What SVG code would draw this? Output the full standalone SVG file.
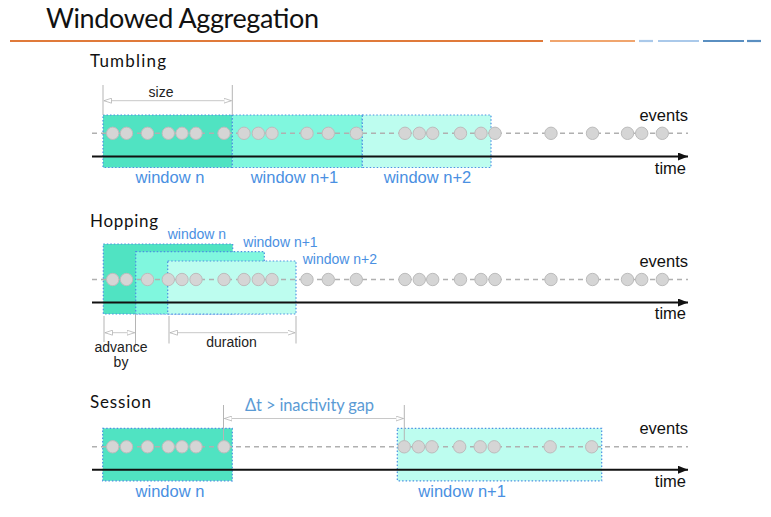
<svg xmlns="http://www.w3.org/2000/svg" width="771" height="517" viewBox="0 0 771 517">
<style>
.hdr{font-family:Lato,"Open Sans",sans-serif;fill:#111}
.lbl{font-family:"Liberation Sans",Arial,sans-serif;fill:#4a90e2}
.ax{font-family:"Liberation Sans",Arial,sans-serif;fill:#111;font-size:16.5px}
.dim{font-family:"Liberation Sans",Arial,sans-serif;fill:#222;font-size:14px}
.w0{fill:#50e3c2;stroke:#4a90e2;stroke-width:1.2;stroke-dasharray:1.5 2}
.w1{fill:#80f7de;stroke:#4a90e2;stroke-width:1.2;stroke-dasharray:1.5 2}
.w2{fill:#bdfdef;stroke:#4a90e2;stroke-width:1.2;stroke-dasharray:1.5 2}
.ev{stroke:#b0b0b0;stroke-width:1.5;stroke-dasharray:5 4;fill:none}
.axis{stroke:#111;stroke-width:2;fill:none}
.tick{stroke:#b5b5b5;stroke-width:1;fill:none}
.dl{stroke:#c8c8c8;stroke-width:1;fill:none}
.ah{fill:#fff;stroke:#b5b5b5;stroke-width:0.8}
circle{fill:#d5d5d5;stroke:#bcbcbc;stroke-width:1}
</style>
<defs>
<marker id="arr" viewBox="0 0 10 8" refX="10" refY="4" markerWidth="10" markerHeight="8" markerUnits="userSpaceOnUse" orient="auto">
<path d="M0,0 L10,4 L0,8 Z" fill="#111"/>
</marker>
<marker id="dimA" viewBox="0 0 8 6" refX="8" refY="3" markerWidth="8" markerHeight="6" markerUnits="userSpaceOnUse" orient="auto-start-reverse">
<path d="M0,0.5 L7.5,3 L0,5.5 Z" fill="#fff" stroke="#b5b5b5" stroke-width="0.8"/>
</marker>
<g id="evT">
<circle cx="112.7" cy="0" r="6.2"/><circle cx="126.5" cy="0" r="6.2"/><circle cx="147.5" cy="0" r="6.2"/><circle cx="168.3" cy="0" r="6.2"/><circle cx="182" cy="0" r="6.2"/><circle cx="196" cy="0" r="6.2"/><circle cx="224" cy="0" r="6.2"/>
</g>
<g id="evM">
<circle cx="244" cy="0" r="6.2"/><circle cx="258.3" cy="0" r="6.2"/><circle cx="272" cy="0" r="6.2"/><circle cx="307" cy="0" r="6.2"/><circle cx="328.3" cy="0" r="6.2"/><circle cx="356.3" cy="0" r="6.2"/>
</g>
<g id="evE">
<circle cx="405" cy="0" r="6.2"/><circle cx="419.3" cy="0" r="6.2"/><circle cx="432.7" cy="0" r="6.2"/><circle cx="460.5" cy="0" r="6.2"/><circle cx="481" cy="0" r="6.2"/><circle cx="495" cy="0" r="6.2"/><circle cx="551" cy="0" r="6.2"/><circle cx="592.5" cy="0" r="6.2"/>
</g>
<g id="evX">
<circle cx="627.5" cy="0" r="6.2"/><circle cx="641.7" cy="0" r="6.2"/><circle cx="662.3" cy="0" r="6.2"/>
</g>
</defs>
<rect width="771" height="517" fill="#fff"/>

<g id="title">
<text class="hdr" x="46" y="28" font-size="27" textLength="273">Windowed Aggregation</text>
<line x1="10" y1="41" x2="543" y2="41" stroke="#e07a3a" stroke-width="2.2"/>
<line x1="550" y1="41" x2="635" y2="41" stroke="#f0a56e" stroke-width="2.2"/>
<line x1="639" y1="41" x2="653" y2="41" stroke="#aac9ea" stroke-width="2.2"/>
<line x1="658" y1="41" x2="699" y2="41" stroke="#aac9ea" stroke-width="2.2"/>
<line x1="703" y1="41" x2="744" y2="41" stroke="#5a8fc1" stroke-width="2.2"/>
<line x1="747" y1="41" x2="761" y2="41" stroke="#5a8fc1" stroke-width="2.2"/>
</g>

<!-- Tumbling -->
<g id="tumbling-header"><text class="hdr" x="90" y="67.3" font-size="17" textLength="76">Tumbling</text></g>
<g id="tumbling-window-n"><rect class="w0" x="103" y="115" width="129.3" height="52.5"/><text class="lbl" x="170" y="183" font-size="16.5" text-anchor="middle">window n</text></g>
<g id="tumbling-window-n1"><rect class="w1" x="232.3" y="115" width="130" height="52.5"/><text class="lbl" x="294.5" y="183" font-size="16.5" text-anchor="middle">window n+1</text></g>
<g id="tumbling-window-n2"><rect class="w2" x="362.3" y="115" width="128.7" height="52.5"/><text class="lbl" x="427.5" y="183" font-size="16.5" text-anchor="middle">window n+2</text></g>

<!-- Hopping -->
<g id="hopping-header"><text class="hdr" x="90" y="227.3" font-size="17" textLength="68">Hopping</text></g>
<g id="hopping-window-n"><rect class="w0" x="103.3" y="244" width="129.4" height="70"/><text class="lbl" x="167.7" y="238.5" font-size="14">window n</text></g>
<g id="hopping-window-n1"><rect class="w1" x="135.7" y="251.7" width="128.6" height="62.3"/><text class="lbl" x="243.3" y="247" font-size="14">window n+1</text></g>
<g id="hopping-window-n2"><rect class="w2" x="167.7" y="261" width="128.3" height="53"/><text class="lbl" x="302.7" y="264" font-size="14">window n+2</text></g>

<!-- Session -->
<g id="session-header"><text class="hdr" x="90" y="408" font-size="17" textLength="61">Session</text></g>
<g id="session-window-n"><rect class="w0" x="102.7" y="428.3" width="129.6" height="52.5"/><text class="lbl" x="170" y="496.5" font-size="16.5" text-anchor="middle">window n</text></g>
<g id="session-window-n1"><rect class="w2" x="397.3" y="428.3" width="204.4" height="52.5"/><text class="lbl" x="418.3" y="496.7" font-size="16.5">window n+1</text></g>

<g id="connectors">
<!-- tumbling -->
<line class="ev" x1="92" y1="133.3" x2="688" y2="133.3"/>
<line class="axis" x1="92" y1="156.5" x2="688" y2="156.5" marker-end="url(#arr)"/>
<!-- size dimension -->
<line class="tick" x1="103" y1="85" x2="103" y2="115"/>
<line class="tick" x1="232.3" y1="85" x2="232.3" y2="115"/>
<line class="dl" x1="103.5" y1="100.7" x2="231.8" y2="100.7" marker-start="url(#dimA)" marker-end="url(#dimA)"/>
<!-- hopping -->
<line class="ev" x1="92" y1="279.5" x2="688" y2="279.5"/>
<line class="axis" x1="92" y1="302.5" x2="688" y2="302.5" marker-end="url(#arr)"/>
<line class="tick" x1="104" y1="316" x2="104" y2="342"/>
<line class="tick" x1="135.5" y1="314" x2="135.5" y2="347"/>
<line class="dl" x1="104.5" y1="332.7" x2="135" y2="332.7" marker-start="url(#dimA)" marker-end="url(#dimA)"/>
<line class="tick" x1="169" y1="316" x2="169" y2="343.5"/>
<line class="tick" x1="296" y1="316" x2="296" y2="343.5"/>
<line class="dl" x1="169.5" y1="332.7" x2="295.5" y2="332.7" marker-start="url(#dimA)" marker-end="url(#dimA)"/>
<!-- session -->
<line class="ev" x1="92" y1="446.8" x2="688" y2="446.8"/>
<line class="axis" x1="92" y1="469.7" x2="688" y2="469.7" marker-end="url(#arr)"/>
<line class="tick" x1="223.5" y1="405" x2="223.5" y2="441"/>
<line class="tick" x1="404.3" y1="405" x2="404.3" y2="441"/>
<line class="dl" x1="224" y1="418.5" x2="403.8" y2="418.5" marker-start="url(#dimA)" marker-end="url(#dimA)"/>
</g>

<g id="events">
<use href="#evT" y="133.3"/><use href="#evM" y="133.3"/><use href="#evE" y="133.3"/><use href="#evX" y="133.3"/>
<use href="#evT" y="279.5"/><use href="#evM" y="279.5"/><use href="#evE" y="279.5"/><use href="#evX" y="279.5"/>
<use href="#evT" y="446.8"/><use href="#evE" x="-0.8" y="446.8"/>
</g>

<g id="axis-labels">
<text class="ax" x="688" y="121" text-anchor="end">events</text>
<text class="ax" x="686" y="173.5" text-anchor="end">time</text>
<text class="ax" x="688" y="267" text-anchor="end">events</text>
<text class="ax" x="686" y="318.5" text-anchor="end">time</text>
<text class="ax" x="688" y="433.5" text-anchor="end">events</text>
<text class="ax" x="686" y="486.5" text-anchor="end">time</text>
</g>

<g id="dimension-labels">
<text class="dim" x="161" y="97" text-anchor="middle" fill="#333">size</text>
<text class="dim" x="231.5" y="347" text-anchor="middle">duration</text>
<text class="dim" x="121" y="352" text-anchor="middle">advance</text>
<text class="dim" x="121" y="367" text-anchor="middle">by</text>
<text x="245" y="410.5" font-family="Lato,'Open Sans',sans-serif" font-size="16.5" fill="#5b9bd5" textLength="129">Δt &gt; inactivity gap</text>
</g>
</svg>
